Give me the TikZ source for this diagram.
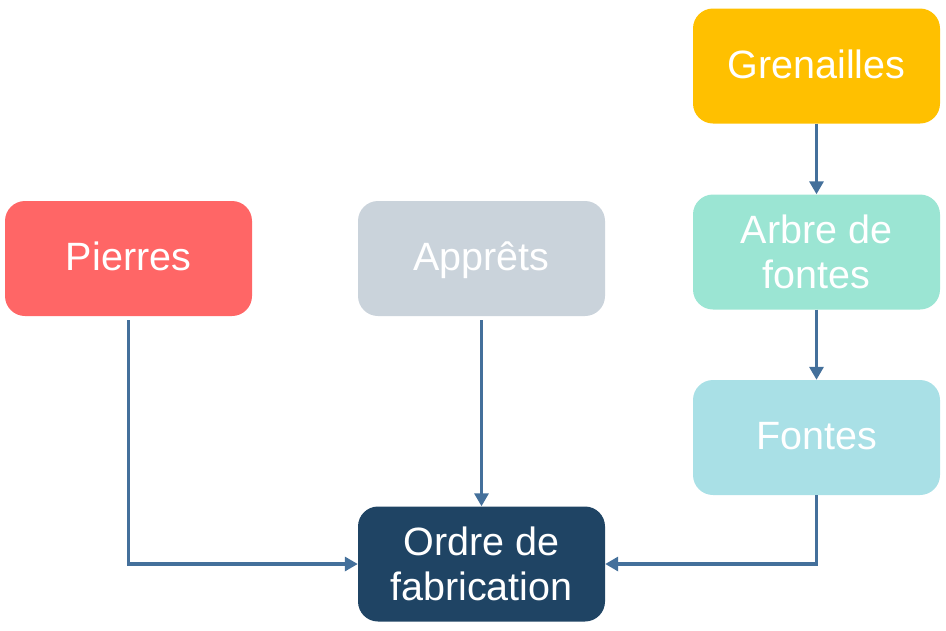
\documentclass[tikz,border=0pt]{standalone}
\usepackage{fontspec}
\setmainfont{Liberation Sans}
\usetikzlibrary{arrows.meta}
\definecolor{cGren}{HTML}{FFC000}
\definecolor{cArbre}{HTML}{9BE5D3}
\definecolor{cFontes}{HTML}{A9E0E6}
\definecolor{cPierres}{HTML}{FF6666}
\definecolor{cAppr}{HTML}{CAD3DB}
\definecolor{cOrdre}{HTML}{1F4464}
\definecolor{cArrow}{HTML}{44709B}
\tikzset{
  box/.style={rounded corners=20pt, minimum width=247pt, minimum height=115pt,
    text=white, font=\fontsize{39.5}{45.6}\selectfont, align=center, inner sep=0pt},
  onebox/.style={box, text height=28pt, text depth=4pt},
  arr/.style={draw=cArrow, line width=3.2pt, -{Triangle[length=13pt,width=14pt]}}
}
\begin{document}
\begin{tikzpicture}[x=1pt,y=-1pt]
\useasboundingbox (0,0) rectangle (946,630);
\node[onebox, fill=cGren]    (G) at (816.5,66)    {Grenailles};
\node[box, fill=cArbre]      (A) at (816.5,252)   {Arbre de\\fontes};
\node[onebox, fill=cFontes]  (F) at (816.5,437.5) {Fontes};
\node[onebox, fill=cPierres] (P) at (128.5,258.5) {Pierres};
\node[onebox, fill=cAppr]    (R) at (481.5,258.5) {Apprêts};
\node[box, fill=cOrdre]      (O) at (481.5,564)   {Ordre de\\fabrication};
\draw[arr] (G.south) -- (A.north);
\draw[arr] (A.south) -- (F.north);
\draw[arr] ([yshift=-4pt]R.south) -- (O.north);
\draw[arr] ([yshift=-4pt]P.south) |- (O.west);
\draw[arr] (F.south) |- (O.east);
\end{tikzpicture}
\end{document}
